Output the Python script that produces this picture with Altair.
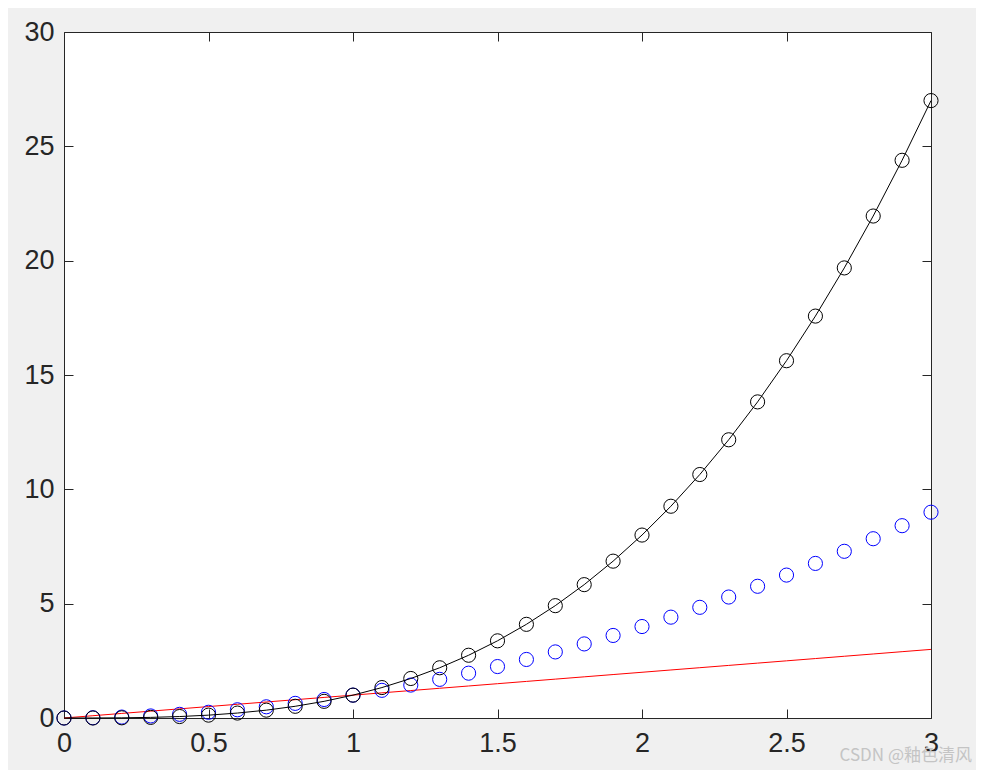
import altair as alt
import pandas as pd

xs = [0, 0.1, 0.2, 0.3, 0.4, 0.5, 0.6, 0.7, 0.8, 0.9, 1.0,
      1.1, 1.2, 1.3, 1.4, 1.5, 1.6, 1.7, 1.8, 1.9, 2.0,
      2.1, 2.2, 2.3, 2.4, 2.5, 2.6, 2.7, 2.8, 2.9, 3.0]
y_red = [0, 0.1, 0.2, 0.3, 0.4, 0.5, 0.6, 0.7, 0.8, 0.9, 1.0,
         1.1, 1.2, 1.3, 1.4, 1.5, 1.6, 1.7, 1.8, 1.9, 2.0,
         2.1, 2.2, 2.3, 2.4, 2.5, 2.6, 2.7, 2.8, 2.9, 3.0]
y_blue = [0, 0.01, 0.04, 0.09, 0.16, 0.25, 0.36, 0.49, 0.64, 0.81, 1.0,
          1.21, 1.44, 1.69, 1.96, 2.25, 2.56, 2.89, 3.24, 3.61, 4.0,
          4.41, 4.84, 5.29, 5.76, 6.25, 6.76, 7.29, 7.84, 8.41, 9.0]
y_black = [0, 0.001, 0.008, 0.027, 0.064, 0.125, 0.216, 0.343, 0.512, 0.729, 1.0,
           1.331, 1.728, 2.197, 2.744, 3.375, 4.096, 4.913, 5.832, 6.859, 8.0,
           9.261, 10.648, 12.167, 13.824, 15.625, 17.576, 19.683, 21.952, 24.389, 27.0]
x_ticks = [0, 0.5, 1, 1.5, 2, 2.5, 3]
y_ticks = [0, 5, 10, 15, 20, 25, 30]
watermark = ["CSDN @釉色清风"]

df = pd.DataFrame({"x": xs, "r": y_red, "b": y_blue, "k": y_black})

W, H = 867, 686
FONT = "Liberation Sans"
INK = "#262626"
TS = 9

xscale = alt.Scale(domain=[0, 3], nice=False, zero=False)
yscale = alt.Scale(domain=[0, 30], nice=False, zero=False)

common = dict(domain=False, grid=False, tickSize=TS, offset=-TS, tickColor=INK,
              tickWidth=1, labelFont=FONT, labelFontSize=27, labelColor=INK,
              title=None, labelOverlap=False, labelFlush=False)

x_bottom = alt.Axis(orient="bottom", values=x_ticks, format="~g", labelPadding=12, **common)
y_left = alt.Axis(orient="left", values=y_ticks, format="d", labelPadding=10, **common)
x_top = alt.Axis(orient="top", values=x_ticks, labels=False, **common)
y_right = alt.Axis(orient="right", values=y_ticks, labels=False, **common)

base = alt.Chart(df)
X = alt.X("x:Q", scale=xscale, axis=x_bottom)

red = base.mark_line(color="#ff0000", strokeWidth=1).encode(
    x=X, y=alt.Y("r:Q", scale=yscale, axis=y_left))
blue = base.mark_point(shape="circle", filled=False, color="#0000ff", size=200,
                       strokeWidth=1, opacity=1).encode(
    x=X, y=alt.Y("b:Q", scale=yscale, axis=y_left))
kline = base.mark_line(color="#000000", strokeWidth=1).encode(
    x=X, y=alt.Y("k:Q", scale=yscale, axis=y_left))
kpts = base.mark_point(shape="circle", filled=False, color="#000000", size=200,
                       strokeWidth=1, opacity=1).encode(
    x=X, y=alt.Y("k:Q", scale=yscale, axis=y_left))

data_layer = alt.layer(red, blue, kline, kpts)

frame = base.mark_point(opacity=0).encode(
    x=alt.X("x:Q", scale=xscale, axis=x_top),
    y=alt.Y("k:Q", scale=yscale, axis=y_right))

wm = alt.Chart(pd.DataFrame({"t": watermark})).mark_text(
    align="right", baseline="alphabetic", fontSize=17, color="#c4c4c4",
    font="Noto Sans CJK SC").encode(
    text="t:N", x=alt.value(908), y=alt.value(729))

chart = alt.layer(data_layer, frame, wm).resolve_axis(
    x="independent", y="independent"
).properties(
    width=W, height=H,
    autosize=alt.AutoSizeParams(type="none"),
    padding={"left": 56, "top": 24, "right": 45, "bottom": 52},
    background="#f0f0f0",
).configure_view(fill="#ffffff", stroke=INK, strokeWidth=1)

chart.save("out.html", embed_options={"renderer": "svg", "actions": False})
